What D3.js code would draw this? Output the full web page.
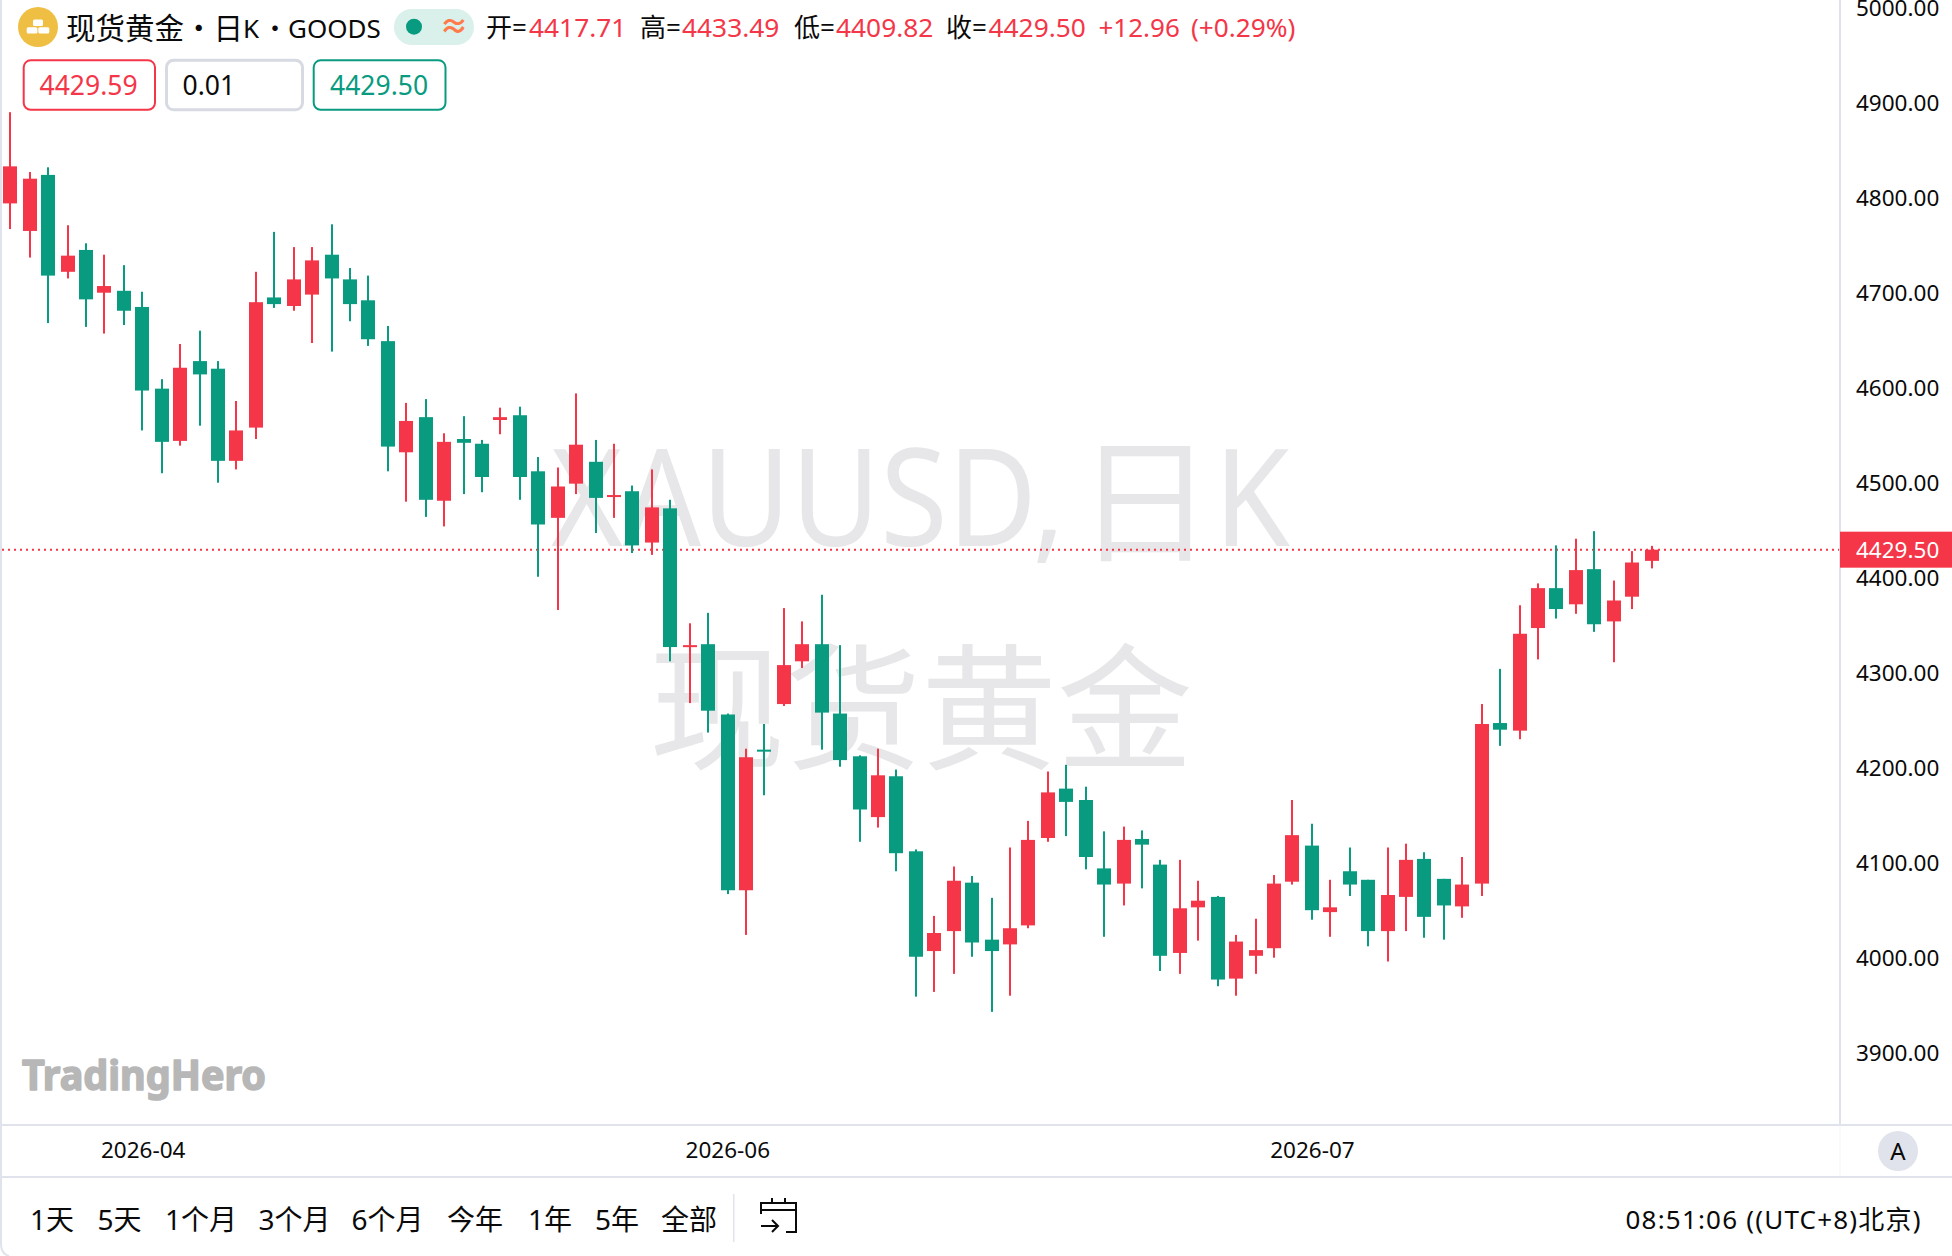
<!DOCTYPE html>
<html><head><meta charset="utf-8">
<script src="https://cdn.jsdelivr.net/npm/d3@7/dist/d3.min.js"></script>
<style>html,body{margin:0;padding:0;background:#fff;overflow:hidden}svg{display:block}
text{font-family:"Noto Sans","Noto Sans CJK SC",sans-serif}</style></head><body>
<svg id="c" width="1952" height="1256"></svg>
<script>
// [open, high, low, close]
const candles = [
[4794,4890,4767,4833],[4765,4827,4737,4820],[4824,4832,4668,4718],[4722,4771,4715,4739],
[4745,4752,4664,4693],[4700,4740,4657,4707],[4702,4729,4666,4681],[4685,4701,4555,4597],
[4599,4609,4510,4543],[4544,4646,4539,4621],[4628,4660,4560,4614],[4620,4628,4500,4523],
[4523,4586,4514,4555],[4558,4722,4546,4690],[4695,4764,4684,4688],[4686,4748,4681,4714],
[4698,4748,4647,4734],[4740,4772,4638,4715],[4714,4726,4670,4688],[4692,4718,4644,4651],
[4649,4665,4512,4538],[4532,4584,4480,4565],[4569,4588,4464,4482],[4481,4552,4454,4543],
[4546,4570,4488,4542],[4541,4545,4490,4506],[4566,4579,4551,4569],[4571,4580,4482,4506],
[4512,4527,4401,4456],[4463,4516,4366,4496],[4499,4594,4488,4540],[4522,4545,4447,4484],
[4485,4541,4463,4487],[4491,4497,4426,4434],[4437,4514,4424,4474],[4473,4482,4312,4327],
[4327,4352,4268,4329],[4330,4363,4237,4260],[4256,4257,4067,4071],[4071,4220,4024,4211],
[4219,4246,4171,4217],[4267,4368,4265,4308],[4312,4354,4305,4330],[4330,4382,4219,4258],
[4257,4329,4201,4208],[4212,4213,4122,4156],[4148,4220,4137,4192],[4191,4198,4091,4110],
[4112,4114,3959,4001],[4007,4044,3964,4026],[4028,4096,3983,4081],[4079,4086,4001,4016],
[4019,4063,3943,4007],[4014,4116,3960,4031],[4034,4144,4031,4124],[4126,4196,4122,4174],
[4178,4203,4128,4164],[4166,4180,4093,4106],[4094,4133,4022,4077],[4078,4138,4055,4124],
[4125,4134,4073,4119],[4098,4103,3986,4002],[4005,4103,3983,4052],[4053,4081,4018,4060],
[4064,4065,3970,3977],[3978,4024,3960,4017],[4002,4041,3983,4008],[4010,4087,4000,4078],
[4080,4166,4077,4129],[4118,4141,4040,4050],[4048,4082,4022,4053],[4091,4116,4065,4077],
[4082,4082,4012,4028],[4028,4116,3996,4066],[4064,4120,4028,4103],[4104,4111,4021,4043],
[4083,4083,4019,4055],[4054,4106,4042,4077],[4078,4267,4065,4246],[4247,4304,4223,4240],
[4239,4371,4230,4341],[4347,4394,4314,4389],[4389,4434,4357,4367],[4372,4441,4362,4408],
[4409,4449,4343,4351],[4354,4397,4311,4376],[4380,4428,4367,4416],[4417.71,4433.49,4409.82,4429.50]
];
const priceTicks = [5000,4900,4800,4700,4600,4500,4400,4300,4200,4100,4000,3900];
const lastPrice = 4429.50;
const xTickIndex = [7,38,69];
const xTickLabels = ["2026-04","2026-06","2026-07"];
const ranges = ["1天","5天","1个月","3个月","6个月","今年","1年","5年","全部"];
const rangeX = [30,97.5,165,258.5,351.5,447,528,595,661];
const ohlcLabels = ["开=","高=","低=","收="];
const ohlcValues = ["4417.71","4433.49","4409.82","4429.50"];
const ohlcLabelX = [486,640,794,946];
const ohlcValueX = [529,682,836,988.5];

const RED="#f43648", GREEN="#089b80", LINE="#e0e3eb", INK="#0a0a0a", FONT='"Noto Sans","Noto Sans CJK SC",sans-serif';
const svg=d3.select("#c");
const y=d3.scaleLinear().domain([3900,5000]).range([1052.7,7.7]);
const x=d3.scaleLinear().domain([0,87]).range([11.5,1652.15]);
const snap=v=>Math.floor(v/2)*2;

// watermark
const wm=svg.append("g").attr("fill","#e7e7e9");
wm.append("text").attr("x",551).attr("y",546).attr("font-size",135).attr("textLength",514).attr("lengthAdjust","spacingAndGlyphs").text("XAUUSD,");
wm.append("text").attr("x",1145).attr("y",552).attr("text-anchor","middle").attr("font-size",136).text("日");
wm.append("text").attr("x",1214).attr("y",546).attr("font-size",135).attr("textLength",76).attr("lengthAdjust","spacingAndGlyphs").text("K");
wm.append("text").attr("x",921).attr("y",759).attr("text-anchor","middle").attr("font-size",136).text("现货黄金");

// frame lines
svg.append("path").attr("d","M1,0V1244Q1,1254 9,1256").attr("fill","none").attr("stroke",LINE).attr("stroke-width",2);
svg.append("rect").attr("x",2).attr("y",1124).attr("width",1950).attr("height",2).attr("fill",LINE);
svg.append("rect").attr("x",2).attr("y",1176).attr("width",1950).attr("height",2).attr("fill",LINE);
svg.append("rect").attr("x",1839).attr("y",0).attr("width",2).attr("height",1125).attr("fill",LINE);
svg.append("rect").attr("x",1839.5).attr("y",1126).attr("width",1).attr("height",50).attr("fill","#f4f5f8");

// last price line
svg.append("line").attr("x1",2).attr("x2",1839).attr("y1",y(lastPrice)).attr("y2",y(lastPrice))
  .attr("stroke",RED).attr("stroke-width",2).attr("stroke-dasharray","2 4");

// candles
const g=svg.append("g").selectAll("g").data(candles).join("g")
  .attr("fill",d=>d[3]>=d[0]?RED:GREEN);
g.append("rect").attr("x",(d,i)=>snap(x(i))-1).attr("width",2)
  .attr("y",d=>y(d[1])).attr("height",d=>y(d[2])-y(d[1]));
g.append("rect").attr("x",(d,i)=>snap(x(i))-7).attr("width",14)
  .attr("y",d=>y(Math.max(d[0],d[3]))).attr("height",d=>Math.max(2,y(Math.min(d[0],d[3]))-y(Math.max(d[0],d[3]))));

// price axis
const yAxis=svg.append("g").attr("transform","translate(1856,0)")
  .call(d3.axisRight(y).tickValues(priceTicks).tickSize(0).tickPadding(0).tickFormat(d3.format(".2f")));
yAxis.select(".domain").remove();
yAxis.selectAll("text").attr("font-size",22.5).attr("fill",INK).attr("font-family",FONT).attr("dy","0.36em");

// last price tag
svg.append("rect").attr("x",1840).attr("y",y(lastPrice)-18).attr("width",112).attr("height",36).attr("fill",RED);
svg.append("text").attr("x",1856).attr("y",y(lastPrice)).attr("dy","0.36em").attr("font-size",22.5).attr("fill","#fff").text(d3.format(".2f")(lastPrice));

// time axis
const xAxis=svg.append("g").attr("transform","translate(-0.8,1150)")
  .call(d3.axisBottom(x).tickValues(xTickIndex).tickSize(0).tickPadding(0).tickFormat((d,i)=>xTickLabels[i]));
xAxis.select(".domain").remove();
xAxis.selectAll("text").attr("font-size",22.5).attr("fill",INK).attr("font-family",FONT).attr("y",0).attr("dy","0.36em");

// A badge
svg.append("ellipse").attr("cx",1898).attr("cy",1151).attr("rx",20).attr("ry",20).attr("fill",LINE);
svg.append("text").attr("x",1898).attr("y",1159.5).attr("text-anchor","middle").attr("font-size",24).attr("fill",INK).text("A");

// header
svg.append("circle").attr("cx",38).attr("cy",27).attr("r",20).attr("fill","#efbf44");
[[33,19.5,10,6.5],[26.7,27.3,10.7,6.3],[38.3,27.3,11,6.3]].forEach(p=>svg.append("rect").attr("x",p[0]).attr("y",p[1]).attr("width",p[2]).attr("height",p[3]).attr("rx",1.5).attr("fill","#fff"));
svg.append("text").attr("x",66).attr("y",39).attr("font-size",29.5).attr("fill",INK).text("现货黄金・日");
svg.append("text").attr("x",243).attr("y",38).attr("font-size",26).attr("fill",INK).text("K");
svg.append("text").attr("x",275).attr("y",38).attr("text-anchor","middle").attr("font-size",26).attr("fill",INK).text("・");
svg.append("text").attr("x",288).attr("y",38).attr("font-size",26).attr("fill",INK).text("GOODS");
svg.append("rect").attr("x",394).attr("y",9).attr("width",80).attr("height",36).attr("rx",18).attr("fill","#daf0eb");
svg.append("circle").attr("cx",414).attr("cy",26.7).attr("r",8).attr("fill",GREEN);
svg.append("text").attr("x",454).attr("y",37).attr("text-anchor","middle").attr("font-size",29).attr("font-weight",600).attr("fill","#ff7b4a").text("≈");
ohlcLabels.forEach((t,i)=>{
  svg.append("text").attr("x",ohlcLabelX[i]).attr("y",37).attr("font-size",26).attr("fill",INK).text(t);
  svg.append("text").attr("x",ohlcValueX[i]).attr("y",37).attr("font-size",26.3).attr("fill",RED).text(ohlcValues[i]);
});
svg.append("text").attr("x",1098.5).attr("y",37).attr("font-size",26).attr("fill",RED).text("+12.96");
svg.append("text").attr("x",1191).attr("y",37).attr("font-size",26.2).attr("fill",RED).text("(+0.29%)");

// quote boxes
[[23.7,131.3,RED,"4429.59",RED,39.5,2],[166.5,136,"#d8dae3","0.01",INK,182.5,3],[313.7,131.8,GREEN,"4429.50",GREEN,330,2]].forEach(b=>{
  svg.append("rect").attr("x",b[0]).attr("y",60.3).attr("width",b[1]).attr("height",49.5).attr("rx",7).attr("fill","#fff")
    .attr("stroke",b[2]).attr("stroke-width",b[6]);
  svg.append("text").attr("x",b[5]).attr("y",95).attr("font-size",26.5).attr("fill",b[4]).text(b[3]);
});

// logo
svg.append("text").attr("x",22).attr("y",1090).attr("font-family","Lato").attr("font-weight",700).attr("font-size",41)
  .attr("textLength",244).attr("lengthAdjust","spacingAndGlyphs")
  .attr("fill","#b7b7b7").attr("stroke","#b7b7b7").attr("stroke-width",1.6).attr("stroke-linejoin","round").text("TradingHero");

// range bar
svg.append("g").selectAll("text").data(ranges).join("text").attr("x",(d,i)=>rangeX[i]).attr("y",1229.5)
  .attr("font-size",28).attr("fill",INK).text(d=>d);
svg.append("rect").attr("x",733).attr("y",1194).attr("width",1.5).attr("height",48).attr("fill",LINE);
svg.append("path").attr("d","M761,1214V1203H796V1232H786M761,1210H796M772,1198V1204M785,1198V1204M761,1226H778M772,1220L778,1226L772,1232")
  .attr("fill","none").attr("stroke",INK).attr("stroke-width",2);
svg.append("text").attr("x",1625.5).attr("y",1229).attr("font-size",26).attr("letter-spacing",1.2).attr("fill",INK).text("08:51:06 ((UTC+8)北京)");
</script></body></html>
